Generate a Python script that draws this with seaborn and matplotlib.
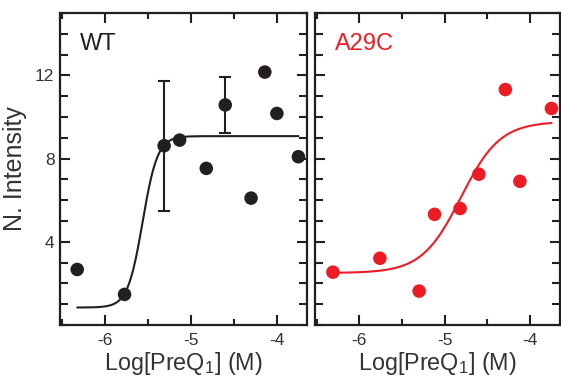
import numpy as np
import pandas as pd
import matplotlib
matplotlib.use("Agg")
import matplotlib.pyplot as plt
import seaborn as sns
from matplotlib.ticker import MultipleLocator, FixedLocator

# ---- data ----
wt_logc = [-6.32, -5.77, -5.31, -5.13, -4.82, -4.60, -4.30, -4.14, -4.00, -3.75]
wt_int = [2.67, 1.47, 8.62, 8.89, 7.53, 10.58, 6.10, 12.16, 10.17, 8.09]
wt_err_logc = [-5.31, -4.60]
wt_err_int = [8.62, 10.58]
wt_err = [3.12, 1.35]

mut_logc = [-6.31, -5.76, -5.30, -5.12, -4.82, -4.60, -4.29, -4.12, -3.75]
mut_int = [2.54, 3.21, 1.63, 5.32, 5.60, 7.25, 11.32, 6.91, 10.41]

# Hill fit parameters (bottom, top, logEC50, hill slope)
wt_fit = dict(bottom=0.84, top=9.08, x0=-5.56, n=5.0)
mut_fit = dict(bottom=2.50, top=9.78, x0=-4.81, n=1.9)
fit_range = (-6.32, -3.75)

x_ticks = [-6, -5, -4]
y_ticks = [4, 8, 12]
panel_names = ["WT", "A29C"]
xlabel = "Log[PreQ$\\mathregular{_1}$] (M)"
ylabel = "N. Intensity"

BLACK = "#231f20"
RED = "#ed1c24"

sns.set_theme(style="ticks")
plt.rcParams["font.family"] = ["Liberation Sans", "DejaVu Sans"]
plt.rcParams["mathtext.fontset"] = "custom"
plt.rcParams["mathtext.rm"] = "Liberation Sans"
plt.rcParams["axes.unicode_minus"] = False


def hill(x, bottom, top, x0, n):
    return bottom + (top - bottom) / (1 + 10 ** ((x0 - x) * n))


fig = plt.figure(figsize=(5.61, 3.77), dpi=100)
ax1 = fig.add_axes([60 / 561, 52 / 377, 247 / 561, 312 / 377])
ax2 = fig.add_axes([315 / 561, 52 / 377, 245 / 561, 312 / 377])

xs = np.linspace(fit_range[0], fit_range[1], 300)

sets = [
    (ax1, wt_logc, wt_int, wt_fit, BLACK, panel_names[0]),
    (ax2, mut_logc, mut_int, mut_fit, RED, panel_names[1]),
]

for ax, lx, ly, fit, col, name in sets:
    df = pd.DataFrame({"logc": lx, "intensity": ly})
    cf = pd.DataFrame({"logc": xs, "intensity": hill(xs, **fit)})
    sns.lineplot(data=cf, x="logc", y="intensity", ax=ax, color=col, lw=1.5)
    sns.scatterplot(data=df, x="logc", y="intensity", ax=ax, color=col,
                    s=95, edgecolor="none", zorder=5, clip_on=False)
    ax.set_xlim(-6.52, -3.65)
    ax.set_ylim(0, 15)
    ax.xaxis.set_major_locator(FixedLocator(x_ticks))
    ax.xaxis.set_minor_locator(MultipleLocator(0.5))
    ax.yaxis.set_major_locator(FixedLocator(y_ticks))
    ax.yaxis.set_minor_locator(MultipleLocator(1))
    ax.tick_params(which="both", direction="in", top=True, right=True,
                   color=BLACK, width=1.5)
    ax.tick_params(which="major", length=7, labelsize=12.5, pad=4,
                   labelcolor="#333333")
    ax.tick_params(which="minor", length=6)
    ax.tick_params(axis="x", which="minor", length=4)
    ax.tick_params(axis="x", which="major", pad=6)
    for sp in ax.spines.values():
        sp.set_visible(True)
        sp.set_linewidth(1.6)
        sp.set_color(BLACK)
    ax.set_xlabel(xlabel, fontsize=16.8, color="#333333", labelpad=1)
    ax.text(0.08, 0.935, name, transform=ax.transAxes, fontsize=17,
            color=col, va="top", ha="left")

ax1.errorbar(wt_err_logc, wt_err_int, yerr=wt_err, fmt="none",
             ecolor=BLACK, elinewidth=1.5, capsize=4, capthick=1.5, zorder=4)

ax1.set_ylabel(ylabel, fontsize=18, color="#333333", labelpad=6)
ax2.set_ylabel("")
ax2.tick_params(axis="y", labelleft=False)

fig.savefig("out.png", dpi=100)
